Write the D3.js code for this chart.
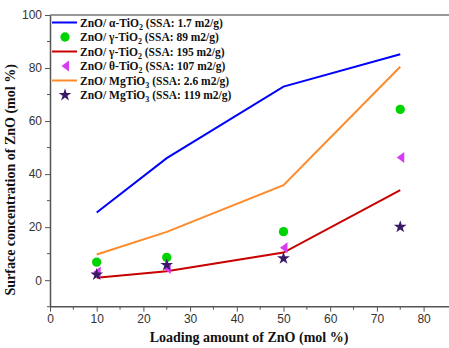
<!DOCTYPE html>
<html>
<head>
<meta charset="utf-8">
<script src="https://cdn.jsdelivr.net/npm/d3@7.9.0/dist/d3.min.js"></script>
<style>
  html, body { margin: 0; padding: 0; background: #fff; }
  svg { display: block; }
  .tick text { font-family: "Liberation Sans", Arial, sans-serif; font-size: 12px; fill: #333; }
  .axis path, .axis line { stroke: #555; }
  .title { font-family: "Liberation Serif", "Times New Roman", serif; font-weight: bold; font-size: 14px; fill: #111; }
  .legend text { font-family: "Liberation Serif", "Times New Roman", serif; font-weight: bold; font-size: 11.5px; fill: #111; }
</style>
</head>
<body>
<svg id="chart" width="449" height="348"></svg>
<script>
// 데이터
const loading = [10, 25, 50, 75];
const alphaTiO2 = [25.5, 46, 73, 85.2];        // line
const gammaTiO2_89 = [6.8, 8.6, 18.3, 64.4];   // circles
const gammaTiO2_195 = [0.9, 3.4, 10.4, 34];    // line
const thetaTiO2 = [3.1, 4.4, 12.2, 46.3];      // triangles
const mgTiO3_26 = [9.7, 18.2, 35.8, 80.5];     // line
const mgTiO3_119 = [2.1, 5.7, 8.2, 20.1];      // stars
const xTicks = [0, 10, 20, 30, 40, 50, 60, 70, 80];
const yTicks = [0, 20, 40, 60, 80, 100];

const svg = d3.select('#chart');
const margin = { left: 50, top: 15, right: 0, bottom: 41 };
const W = 449, H = 348;

const x = d3.scaleLinear().domain([0, 85]).range([margin.left, margin.left + 85 * 4.67]);
const y = d3.scaleLinear().domain([-10, 100]).range([H - margin.bottom - 0.3, margin.top]);

// 프레임 (위쪽 선)
svg.append('line')
   .attr('x1', margin.left).attr('x2', W)
   .attr('y1', y(100)).attr('y2', y(100))
   .attr('stroke', '#777').attr('stroke-width', 1.5);

// 축
const xAxis = svg.append('g').attr('class', 'axis')
   .attr('transform', `translate(0,${y(-10)})`)
   .call(d3.axisBottom(x).tickValues(xTicks).tickSize(5).tickPadding(3).tickSizeOuter(0));
xAxis.select('.domain').attr('d', `M${margin.left},0H${W}`).attr('stroke-width', 1.5);
xAxis.selectAll('.minor').data(d3.range(5, 85, 10)).join('line')
   .attr('class', 'minor').attr('x1', d => x(d)).attr('x2', d => x(d))
   .attr('y1', 0).attr('y2', 3).attr('stroke', '#555');

const yAxis = svg.append('g').attr('class', 'axis')
   .attr('transform', `translate(${margin.left},0)`)
   .call(d3.axisLeft(y).tickValues(yTicks).tickSize(5).tickPadding(3).tickSizeOuter(0));
yAxis.select('.domain').attr('stroke-width', 1.5);
yAxis.selectAll('.minor').data(d3.range(-10, 100, 20)).join('line')
   .attr('class', 'minor').attr('y1', d => y(d)).attr('y2', d => y(d))
   .attr('x1', 0).attr('x2', -3).attr('stroke', '#555');

// 축 제목
svg.append('text').attr('class', 'title')
   .attr('x', 249).attr('y', 342).attr('text-anchor', 'middle')
   .text('Loading amount of ZnO (mol %)');
svg.append('text').attr('class', 'title')
   .attr('transform', `translate(15,${(y(100) + y(-10)) / 2 + 19}) rotate(-90)`)
   .attr('text-anchor', 'middle')
   .text('Surface concentration of ZnO (mol %)');

const line = d3.line().x((d, i) => x(loading[i])).y(d => y(d));
const toPts = arr => arr.map((v, i) => [x(loading[i]), y(v)]);

// 선
[[alphaTiO2, '#0000ff'], [mgTiO3_26, '#ff8a2a'], [gammaTiO2_195, '#c80000']].forEach(([arr, c]) => {
  svg.append('path').datum(arr).attr('d', line)
     .attr('fill', 'none').attr('stroke', c).attr('stroke-width', 2);
});

// 마커
const circleSym = d3.symbol().type(d3.symbolCircle).size(68);
const starSym = d3.symbol().type(d3.symbolStar).size(50);
const triPath = 'M-3.5,0L4,-5.5L4,5.5Z';

svg.append('g').selectAll('path').data(toPts(gammaTiO2_89)).join('path')
   .attr('transform', d => `translate(${d})`).attr('d', circleSym).attr('fill', '#00d400');
svg.append('g').selectAll('path').data(toPts(thetaTiO2)).join('path')
   .attr('transform', d => `translate(${d})`).attr('d', triPath).attr('fill', '#d83cf2');
svg.append('g').selectAll('path').data(toPts(mgTiO3_119)).join('path')
   .attr('transform', d => `translate(${d})`).attr('d', starSym).attr('fill', '#3a1a66');

// 범례
const legendItems = [
  { kind: 'line', color: '#0000ff', html: ['ZnO/ α-TiO', '2', ' (SSA: 1.7 m2/g)'] },
  { kind: 'circle', color: '#00d400', html: ['ZnO/ γ-TiO', '2', ' (SSA: 89 m2/g)'] },
  { kind: 'line', color: '#c80000', html: ['ZnO/ γ-TiO', '2', ' (SSA: 195 m2/g)'] },
  { kind: 'tri', color: '#d83cf2', html: ['ZnO/ θ-TiO', '2', ' (SSA: 107 m2/g)'] },
  { kind: 'line', color: '#ff8a2a', html: ['ZnO/ MgTiO', '3', ' (SSA: 2.6 m2/g)'] },
  { kind: 'star', color: '#3a1a66', html: ['ZnO/ MgTiO', '3', ' (SSA: 119 m2/g)'] }
];
const lg = svg.append('g').attr('class', 'legend');
legendItems.forEach((it, i) => {
  const cy = 22.5 + i * 14.5;
  const cx = 65;
  if (it.kind === 'line') {
    lg.append('line').attr('x1', 52).attr('x2', 77).attr('y1', cy).attr('y2', cy)
      .attr('stroke', it.color).attr('stroke-width', 2);
  } else if (it.kind === 'circle') {
    lg.append('path').attr('transform', `translate(${cx},${cy})`).attr('d', circleSym).attr('fill', it.color);
  } else if (it.kind === 'tri') {
    lg.append('path').attr('transform', `translate(${cx},${cy})`).attr('d', triPath).attr('fill', it.color);
  } else {
    lg.append('path').attr('transform', `translate(${cx},${cy})`).attr('d', starSym).attr('fill', it.color);
  }
  const t = lg.append('text').attr('x', 80).attr('y', cy + 4);
  t.append('tspan').text(it.html[0]);
  t.append('tspan').attr('font-size', '8px').attr('dy', 3).text(it.html[1]);
  t.append('tspan').attr('dy', -3).text(it.html[2]);
});
</script>
</body>
</html>
